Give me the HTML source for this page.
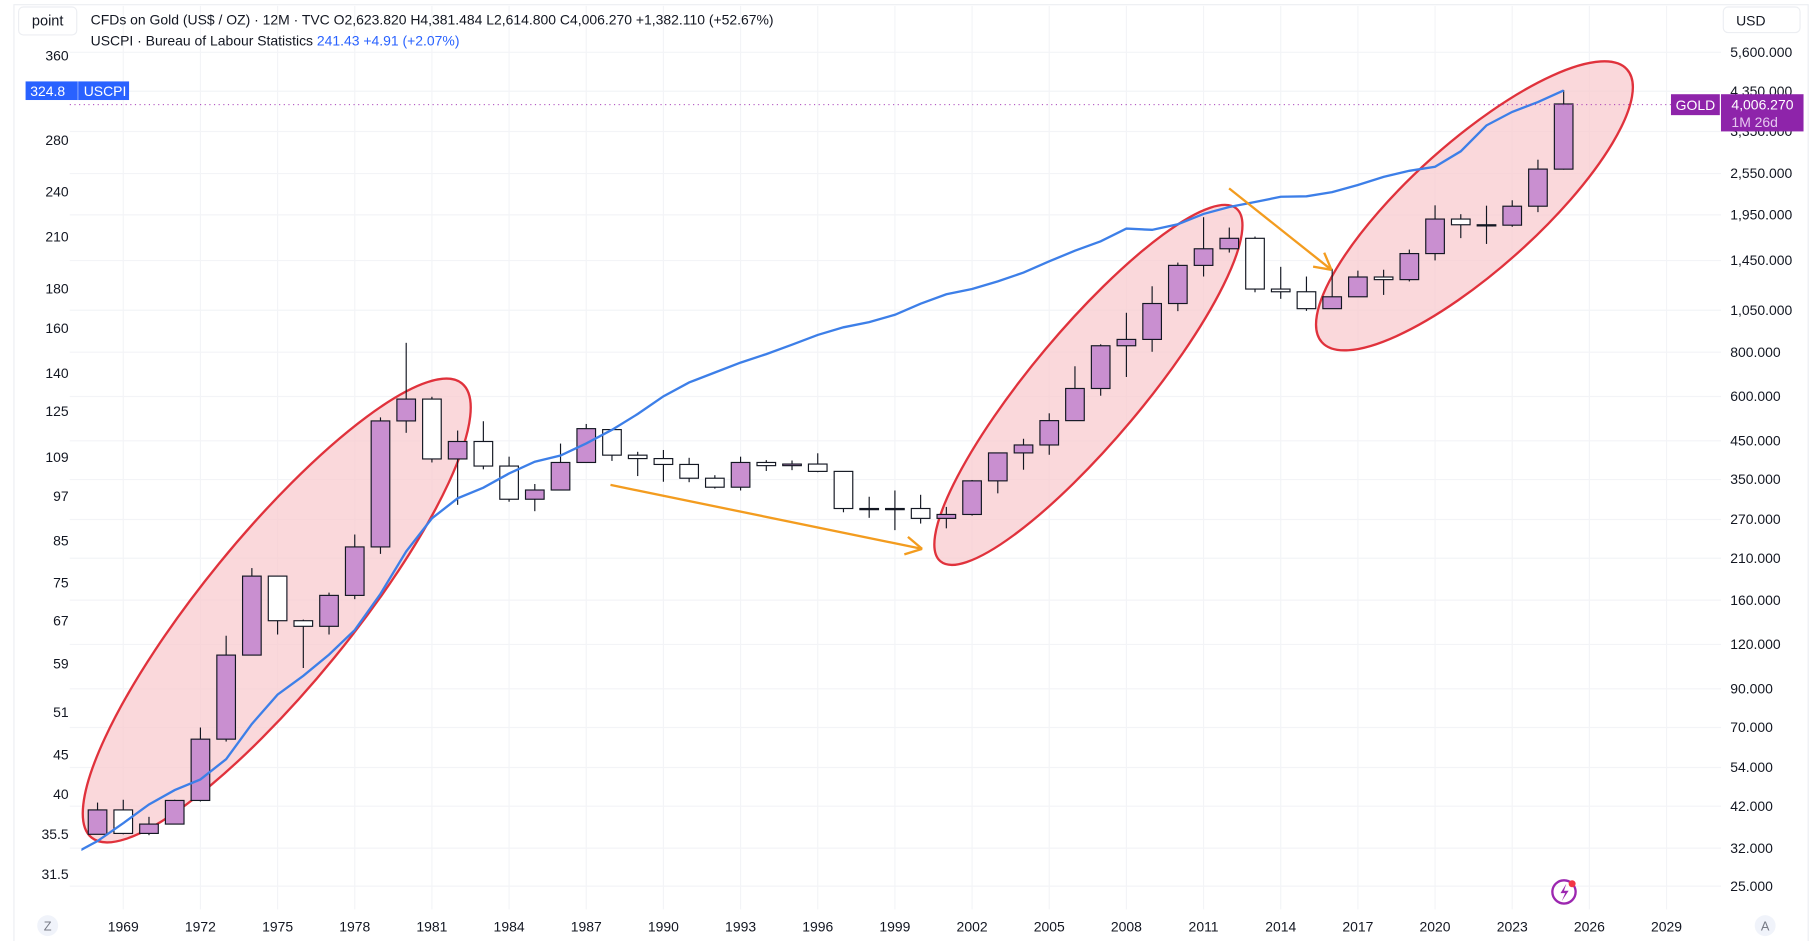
<!DOCTYPE html>
<html><head><meta charset="utf-8"><style>
html,body{margin:0;padding:0;background:#fff;}
svg{display:block;font-family:"Liberation Sans",sans-serif;}
</style></head><body>
<svg id="chart" width="1814" height="941" viewBox="0 0 1560 809.2" xmlns="http://www.w3.org/2000/svg">
<rect x="0" y="0" width="1560" height="809.2" fill="#fff"/>
<rect x="12" y="4" width="1543" height="806" fill="none" stroke="#eceef2"/>
<g id="grid"></g>
<g id="annots-back"></g>
<g id="candles"></g>
<g id="cpi"></g>
<g id="annots-front"></g>
<g id="axes"></g>
<g>
<rect x="16" y="6" width="50" height="24" rx="4" fill="#fff" stroke="#eceef2"/>
<text x="41" y="22" font-size="12.5" text-anchor="middle" fill="#131722">point</text>
<text x="78" y="21" font-size="12" fill="#131722">CFDs on Gold (US$ / OZ) · 12M · TVC  O2,623.820  H4,381.484  L2,614.800  C4,006.270  +1,382.110 (+52.67%)</text>
<text x="78" y="39" font-size="12" fill="#131722">USCPI · Bureau of Labour Statistics <tspan fill="#2962ff">241.43  +4.91 (+2.07%)</tspan></text>
</g>
<g>
<rect x="1482" y="6" width="66" height="22" rx="4" fill="#fff" stroke="#eceef2"/>
<text x="1493" y="22" font-size="12" fill="#131722">USD</text>
</g>
<line x1="60" y1="90" x2="1480" y2="90" stroke="#9c27b0" stroke-dasharray="1 3" stroke-width="0.8"/>
<g>
<rect x="22" y="70" width="89" height="16" fill="#2962ff"/>
<line x1="67" y1="70" x2="67" y2="86" stroke="#fff" stroke-opacity="0.4"/>
<text x="26" y="82.5" font-size="12" fill="#fff">324.8</text>
<text x="72" y="82.5" font-size="12" fill="#fff">USCPI</text>
</g>
<g>
<rect x="1437" y="81" width="42" height="18" fill="#8e24aa"/>
<text x="1458" y="94.5" font-size="12" text-anchor="middle" fill="#fff">GOLD</text>
<rect x="1480" y="81" width="71" height="32" fill="#8e24aa"/>
<text x="1489" y="94" font-size="12" fill="#fff">4,006.270</text>
<text x="1489" y="109" font-size="12" fill="#e6c8f0">1M 26d</text>
</g>
<g><circle cx="41" cy="796" r="9" fill="#f0f3fa"/><text x="41" y="800" font-size="11" text-anchor="middle" fill="#787b86">Z</text></g>
<g><circle cx="1518" cy="796" r="9" fill="#f0f3fa"/><text x="1518" y="800" font-size="11" text-anchor="middle" fill="#787b86">A</text></g>
<g><circle cx="1345" cy="767" r="10" fill="none" stroke="#9c27b0" stroke-width="2"/><path d="M1347 760 L1342 768 L1346 768 L1343 775 L1349 766 L1345 766 Z" fill="#9c27b0"/><circle cx="1352" cy="760" r="3" fill="#f23645"/></g>
</svg>
<script>
const years=[];for(let y=1968;y<=2025;y++)years.push(y);
const opens=[35,41,35.2,37.4,43.6,64.9,112,187,140,135,165,226,512,590,400,448,382,308,327,391,484,410,401,386,353,333,391,383,387,369,290,288,290,272,279,347,416,438,513,632,834,869,1097,1405,1565,1675,1205,1184,1061,1146,1303,1281,1517,1898,1829,1824,2063,2624];
const highs=[43,43.8,39.2,43.8,70,127,197,187,141,168,245,524,850,599,481,511,406,340,442,502,485,419,424,403,360,406,397,396,415,367,313,326,317,293,349,417,456,538,730,842,1033,1227,1431,1921,1796,1694,1392,1307,1375,1358,1366,1557,2075,1959,2070,2144,2790,4381];
const lows=[35,35,34.8,37.3,43.3,63.9,112,128,103,128,161,216,474,391,297,374,303,285,326,390,395,358,345,344,330,326,370,372,367,283,273,252,263,255,277,320,373,411,513,603,681,802,1044,1307,1527,1180,1131,1046,1061,1146,1160,1266,1451,1677,1615,1805,1985,2615];
const closes=[41,35.2,37.4,43.6,64.9,112,187,140,135,165,226,512,590,400,448,382,308,327,391,487,410,401,386,353,333,391,383,387,369,290,288,290,272,279,347,416,438,513,632,834,869,1097,1405,1565,1675,1205,1184,1061,1146,1303,1281,1517,1898,1829,1824,2063,2625,4006];
const cpiYears=[];for(let y=1967;y<=2025;y++)cpiYears.push(y);
const cpiValues=[33.4,34.8,36.7,38.8,40.5,41.8,44.4,49.3,53.8,56.9,60.6,65.2,72.6,82.4,90.9,96.5,99.6,103.9,107.6,109.6,113.6,118.3,124.0,130.7,136.2,140.3,144.5,148.2,152.4,156.9,160.5,163.0,166.6,172.2,177.1,179.9,184.0,188.9,195.3,201.6,207.3,215.3,214.5,218.1,224.9,229.6,233.0,236.7,237.0,240.0,245.1,251.1,255.7,258.8,271.0,292.7,304.7,313.7,324.8];
const goldTicks=[5600,4350,3350,2550,1950,1450,1050,800,600,450,350,270,210,160,120,90,70,54,42,32,25];
const goldTickLabels=["5,600.000","4,350.000","3,350.000","2,550.000","1,950.000","1,450.000","1,050.000","800.000","600.000","450.000","350.000","270.000","210.000","160.000","120.000","90.000","70.000","54.000","42.000","32.000","25.000"];
const cpiTicks=[360,280,240,210,180,160,140,125,109,97,85,75,67,59,51,45,40,35.5,31.5];
const xTicks=[1969,1972,1975,1978,1981,1984,1987,1990,1993,1996,1999,2002,2005,2008,2011,2014,2017,2020,2023,2026,2029];

const NS="http://www.w3.org/2000/svg";
const xS=y=>106+(y-1969)*22.12;
const yG=v=>45+132.5*Math.log(5600/v);
const yC=v=>48+289*Math.log(360/v);
function mk(tag,attrs,parent){const e=document.createElementNS(NS,tag);for(const k in attrs)e.setAttribute(k,attrs[k]);parent.appendChild(e);return e;}
const grid=document.getElementById('grid'),axes=document.getElementById('axes');
xTicks.forEach(y=>{
  mk('line',{x1:xS(y),x2:xS(y),y1:5,y2:782,stroke:'#f3f4f7'},grid);
  const t=mk('text',{x:xS(y),y:801,'font-size':12,'text-anchor':'middle',fill:'#131722'},axes);
  
  
  t.textContent=y;
});
goldTicks.forEach((v,i)=>{
  mk('line',{x1:60,x2:1480,y1:yG(v),y2:yG(v),stroke:'#f3f4f7'},grid);
  const t=mk('text',{x:1488,y:yG(v)+4,'font-size':12,fill:'#131722'},axes);
  
  
  t.textContent=goldTickLabels[i];
});
cpiTicks.forEach(v=>{
  const t=mk('text',{x:59,y:yC(v)+4,'font-size':12,'text-anchor':'end',fill:'#131722'},axes);
  
  
  t.textContent=v;
});
// annotations
const ab=document.getElementById('annots-back');
[[238,525,252,64,-50.8],[936,331,198,48,-50],[1268,177,176,55,-41.8]].forEach(e=>{
  const el=mk('ellipse',{cx:e[0],cy:e[1],rx:e[2],ry:e[3],transform:`rotate(${e[4]} ${e[0]} ${e[1]})`,fill:'#f8c8cc','fill-opacity':0.7,stroke:'#e0323c','stroke-width':2},ab);
  
  
});
// candles
const cg=document.getElementById('candles');
years.forEach((y,i)=>{
  const x=xS(y),up=closes[i]>=opens[i];
  const g=mk('g',{},cg);
  
  
  mk('line',{x1:x,x2:x,y1:yG(highs[i]),y2:yG(lows[i]),stroke:'#131722','stroke-width':1},g);
  const top=yG(Math.max(opens[i],closes[i])),bot=yG(Math.min(opens[i],closes[i]));
  mk('rect',{x:x-8,y:top,width:16,height:Math.max(1,bot-top),fill:up?'#c98fd0':'#fff',stroke:'#131722','stroke-width':1},g);
});
// cpi line
const pts=cpiYears.map((y,i)=>xS(y)+','+yC(cpiValues[i])).join(' ');
const cp=document.getElementById('cpi');
mk('clipPath',{id:'clipc'},cp);
mk('rect',{x:70,y:0,width:1420,height:800},document.getElementById('clipc'));
mk('polyline',{points:pts,fill:'none',stroke:'#3d7fe8','stroke-width':2,'clip-path':'url(#clipc)'},cp);
// arrows
const af=document.getElementById('annots-front');
function arrow(x1,y1,x2,y2){
  const g=mk('g',{},af);
  
  
  mk('line',{x1,y1,x2,y2,stroke:'#f39c1f','stroke-width':2},g);
  const a=Math.atan2(y2-y1,x2-x1),L=16;
  [0.5,-0.5].forEach(d=>mk('line',{x1:x2,y1:y2,x2:x2-L*Math.cos(a+d),y2:y2-L*Math.sin(a+d),stroke:'#f39c1f','stroke-width':2},g));
}
arrow(525,417,793,472);
arrow(1057,162,1145,232);
</script>
</body></html>
